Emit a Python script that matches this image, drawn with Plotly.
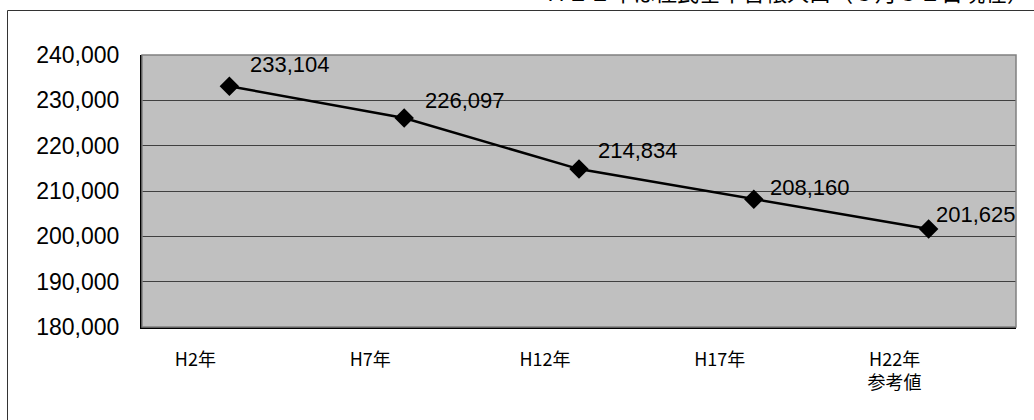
import plotly.graph_objects as go

categories = ["H2年", "H7年", "H12年", "H17年", "H22年<br>参考値"]
population = [233104, 226097, 214834, 208160, 201625]
y_ticks = [180000, 190000, 200000, 210000, 220000, 230000, 240000]
note_text = "Ｈ２２年は住民基本台帳人口（３月３１日現在）"

# label offsets (px) relative to each marker
label_dx = [19, 19, 17, 14, 5]
label_dy = [22, 18, 19, 12, 14]

fig = go.Figure()
fig.add_trace(go.Scatter(
    x=categories, y=population, mode="lines+markers",
    line=dict(color="black", width=2.5),
    marker=dict(symbol="diamond", size=15, color="black"),
    hoverinfo="skip", showlegend=False,
))

for c, v, dx, dy in zip(categories, population, label_dx, label_dy):
    fig.add_annotation(
        x=c, y=v, xref="x", yref="y", text=f"{v:,}", showarrow=False,
        xanchor="left", yanchor="middle", xshift=dx, yshift=dy,
        font=dict(family="Liberation Sans, Arial", size=22, color="black"),
    )

# note at top (partly cut off as in the original)
fig.add_annotation(
    x=(543 - 142) / 874, y=(327 + 9) / 272, xref="paper", yref="paper",
    text=note_text, showarrow=False, xanchor="left", yanchor="middle",
    font=dict(family="Noto Sans CJK JP", size=22, color="black"),
)

# outer chart frame (top and left edges; the rest lies outside the picture)
frame_left = (7.5 - 142) / 874
frame_top = (327 - 10.5) / 272
fig.add_shape(type="line", xref="paper", yref="paper",
              x0=frame_left, x1=1.1, y0=frame_top, y1=frame_top,
              line=dict(color="#333333", width=1), layer="below")
fig.add_shape(type="line", xref="paper", yref="paper",
              x0=frame_left, x1=frame_left, y0=frame_top, y1=-0.5,
              line=dict(color="#333333", width=1), layer="below")
# plot area top/right border
fig.add_shape(type="rect", xref="paper", yref="paper", x0=0, x1=1, y0=0, y1=1,
              line=dict(color="#808080", width=1.5), fillcolor="rgba(0,0,0,0)")

fig.update_layout(
    width=1034, height=420,
    margin=dict(l=142, r=18, t=55, b=93),
    paper_bgcolor="white", plot_bgcolor="#c0c0c0",
    xaxis=dict(
        type="category", range=[-0.5, 4.5], showgrid=False, zeroline=False,
        showline=True, linecolor="black", linewidth=2, ticks="",
        tickfont=dict(family="Noto Sans CJK JP", size=18, color="black"),
        ticklabelstandoff=15, ticklabelshift=-34,
    ),
    yaxis=dict(
        range=[180000, 240000], tickvals=y_ticks,
        ticktext=[f"{t:,}" for t in y_ticks],
        showgrid=True, gridcolor="#404040", gridwidth=1, zeroline=False,
        showline=True, linecolor="black", linewidth=2, ticks="",
        tickfont=dict(family="Liberation Sans, Arial", size=23, color="black"),
        ticklabelstandoff=16,
    ),
)

fig.write_html(
    "out.html",
    config={"displayModeBar": False},
    post_script=(
        "document.body.style.margin='0px';document.body.style.padding='0px';"
        "document.body.style.overflow='hidden';"
        "document.documentElement.style.overflow='hidden';"
    ),
)
